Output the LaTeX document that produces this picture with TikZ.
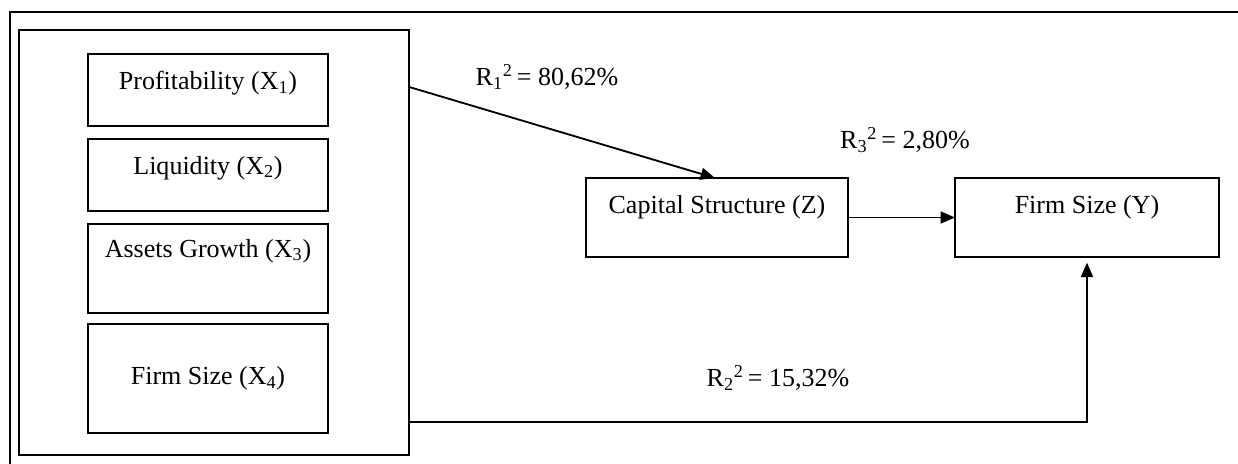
\documentclass[tikz,border=0pt]{standalone}
\usepackage{fontspec}
\setmainfont{Liberation Serif}
\usepackage{tikz}
\usetikzlibrary{positioning,arrows.meta,calc}

\begin{document}
\begin{tikzpicture}[x=0.025cm, y=-0.025cm, >={Triangle[length=0.36cm,width=0.3cm]},
  font=\fontsize{18.5}{22}\selectfont,
  blk/.style={draw, line width=1.3pt, inner sep=0pt, outer sep=0pt, minimum width=6cm},
  lbl/.style={inner sep=0pt}]
  \useasboundingbox (0,0) rectangle (1238,464);
  % rahmen (nur oben und links)
  \draw[line width=1.8pt] (1238,12) -- (10,12) -- (10,464);

  % gruppe der unabhaengigen variablen
  \node[draw, line width=1.3pt, inner sep=0pt, outer sep=0pt,
        minimum width=9.75cm, minimum height=10.625cm] (grp) at (214,242.5) {};
  \node[blk, minimum height=1.8cm]   (x1) at (208,90) {};
  \node[blk, minimum height=1.8cm]   (x2) at (208,175) {};
  \node[blk, minimum height=2.225cm] (x3) at (208,268.5) {};
  \node[blk, minimum height=2.725cm] (x4) at (208,378.5) {};
  \node[lbl, below=0.42cm of x1.north] (tx1) {Profitability (X\textsubscript{1})};
  \node[lbl, below=0.42cm of x2.north] (tx2) {Liquidity (X\textsubscript{2})};
  \node[lbl, below=0.37cm of x3.north] (tx3) {Assets Growth (X\textsubscript{3})};
  \node[lbl] (tx4) at (x4) {Firm Size (X\textsubscript{4})};

  % intervening und abhaengige variable
  \node[blk, minimum width=6.55cm, minimum height=1.975cm] (cs) at (717,217.5) {};
  \node[blk, minimum width=6.6cm, minimum height=1.975cm]  (fs) at (1087,217.5) {};
  \node[lbl, below=0.44cm of cs.north] (tcs) {Capital Structure (Z)};
  \node[lbl, below=0.44cm of fs.north] (tfs) {Firm Size (Y)};

  % pfeile
  \coordinate (o1) at ($(grp.north east)+(0,57)$);
  \coordinate (o2) at ($(grp.south east)+(0,-33)$);
  \draw[->, line width=1.3pt] (o1) -- ($(cs.north)+(-2,0)$);
  \draw[->, line width=1.3pt] (cs.east) -- (fs.west);
  \draw[->, line width=1.3pt, shorten >=4pt] (o2) -| (fs.south);

  % bestimmtheitsmasse
  \node[lbl] (r1) at (547,77) {R\textsubscript{1}\textsuperscript{2}\,= 80,62\%};
  \node[lbl] (r3) at (905,140) {R\textsubscript{3}\textsuperscript{2}\,= 2,80\%};
  \node[lbl] (r2) at (778,378) {R\textsubscript{2}\textsuperscript{2}\,= 15,32\%};
\end{tikzpicture}
\end{document}
